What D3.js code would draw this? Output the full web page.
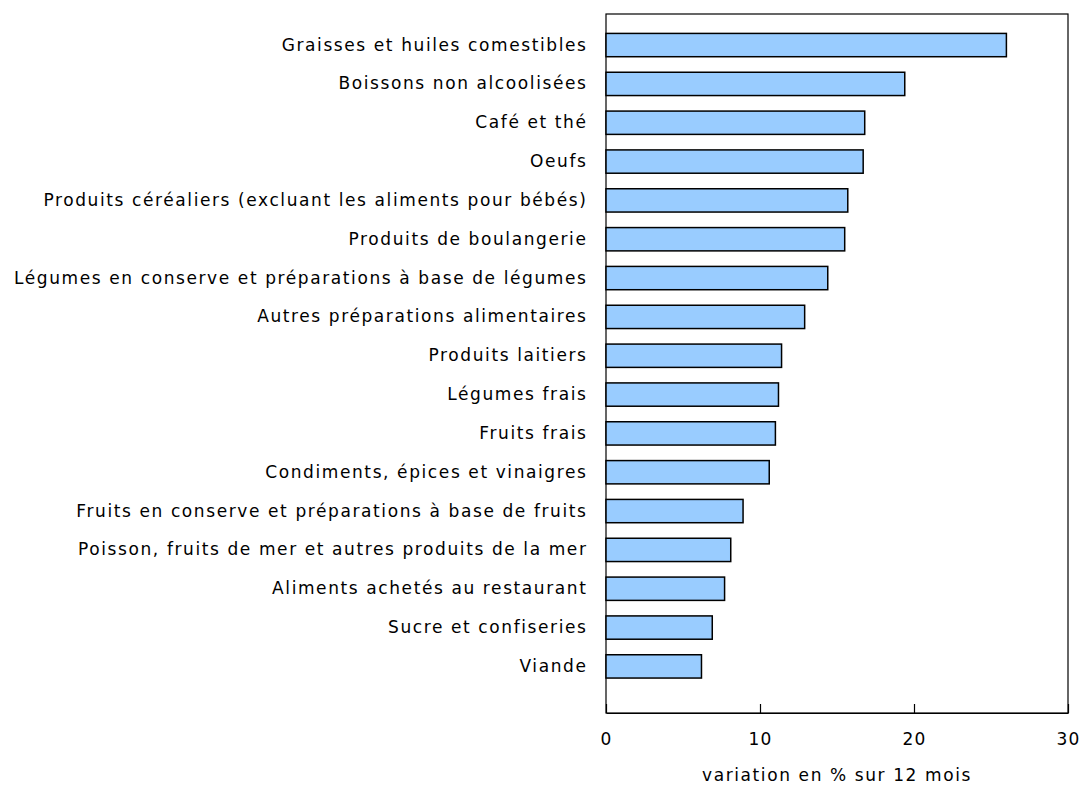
<!DOCTYPE html>
<html>
<head>
<meta charset="utf-8">
<script src="https://cdn.jsdelivr.net/npm/d3@7"></script>
<style>
  body { margin: 0; background: #fff; }
  text { font-family: "DejaVu Sans", Verdana, sans-serif; fill: #000; }
</style>
</head>
<body>
<svg id="chart" width="1082" height="786"></svg>
<script>
// categories, top to bottom
const categories = [
  "Graisses et huiles comestibles",
  "Boissons non alcoolisées",
  "Café et thé",
  "Oeufs",
  "Produits céréaliers (excluant les aliments pour bébés)",
  "Produits de boulangerie",
  "Légumes en conserve et préparations à base de légumes",
  "Autres préparations alimentaires",
  "Produits laitiers",
  "Légumes frais",
  "Fruits frais",
  "Condiments, épices et vinaigres",
  "Fruits en conserve et préparations à base de fruits",
  "Poisson, fruits de mer et autres produits de la mer",
  "Aliments achetés au restaurant",
  "Sucre et confiseries",
  "Viande"
];
const values = [26.0, 19.4, 16.8, 16.7, 15.7, 15.5, 14.4, 12.9, 11.4, 11.2, 11.0, 10.6, 8.9, 8.1, 7.7, 6.9, 6.2];
const xTicks = [0, 10, 20, 30];
const xTitle = "variation en % sur 12 mois";

const margin = { top: 14, right: 14, bottom: 73, left: 606 };
const width = 1082, height = 786;
const plotW = width - margin.left - margin.right;
const plotH = height - margin.top - margin.bottom;

const svg = d3.select("#chart");
const g = svg.append("g").attr("transform", `translate(${margin.left},${margin.top})`);

const x = d3.scaleLinear().domain([0, 30]).range([0, plotW]);

// bars sit in the upper 17 of 18 slots
const step = plotH / 18;
const y = d3.scaleBand()
  .domain(categories)
  .range([0.3 * step, 17.3 * step])
  .paddingInner(0.4)
  .paddingOuter(0.2);

// frame
g.append("rect")
  .attr("x", 0).attr("y", 0)
  .attr("width", plotW).attr("height", plotH)
  .attr("fill", "none")
  .attr("stroke", "#000")
  .attr("stroke-width", 1.2);

// bars
g.selectAll(".bar")
  .data(categories)
  .enter()
  .append("rect")
  .attr("class", "bar")
  .attr("x", x(0))
  .attr("y", d => y(d))
  .attr("width", (d, i) => x(values[i]) - x(0))
  .attr("height", y.bandwidth())
  .attr("fill", "#99ccff")
  .attr("stroke", "#000")
  .attr("stroke-width", 1.5);

// x axis, ticks pointing up inside the frame
const xAxis = d3.axisBottom(x).tickValues(xTicks).tickSizeInner(-9).tickSizeOuter(0).tickPadding(20);
const xAxisGroup = g.append("g")
  .attr("transform", `translate(0,${plotH})`)
  .call(xAxis);
xAxisGroup.select(".domain").attr("stroke", "#000").attr("stroke-width", 1.2);
xAxisGroup.selectAll("line").attr("stroke", "#000").attr("stroke-width", 1.2);
xAxisGroup.selectAll("text")
  .attr("font-size", "17px")
  .attr("font-family", "DejaVu Sans, Verdana, sans-serif")
  .attr("letter-spacing", "1.2px")
  .attr("fill", "#000");

// category labels (wider spacing to mimic Verdana)
const yAxis = d3.axisLeft(y).tickSize(0).tickPadding(18.5);
const yAxisGroup = g.append("g").call(yAxis);
yAxisGroup.select(".domain").remove();
yAxisGroup.selectAll("text")
  .attr("font-size", "17px")
  .attr("font-family", "DejaVu Sans, Verdana, sans-serif")
  .attr("letter-spacing", "1.6px")
  .attr("fill", "#000");

// axis title
g.append("text")
  .attr("x", plotW / 2)
  .attr("y", plotH + 68)
  .attr("text-anchor", "middle")
  .attr("font-size", "17px")
  .attr("letter-spacing", "1.6px")
  .text(xTitle);
</script>
</body>
</html>
